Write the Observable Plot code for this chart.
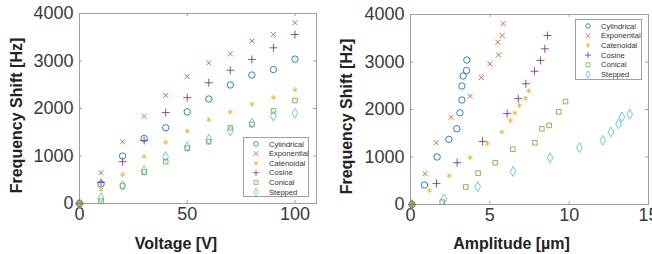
<!DOCTYPE html>
<html><head><meta charset="utf-8">
<script src="https://cdn.jsdelivr.net/npm/d3@7"></script>
<script src="https://cdn.jsdelivr.net/npm/@observablehq/plot@0.6"></script>
<style>
html,body{margin:0;padding:0;background:#fff;}
#wrap{position:relative;width:652px;height:254px;overflow:hidden;font-family:"Liberation Sans",Arial,sans-serif;}
#wrap > svg, #wrap > .legend{position:absolute;top:0;}
</style></head><body><div id="wrap"></div>
<script>
// ---- data ----
const seriesNames = ["Cylindrical","Exponential","Catenoidal","Cosine","Conical","Stepped"];
const seriesColors = ["#0072BD","#D95319","#EDB120","#7E2F8E","#77AC30","#4DBEEE"];
const seriesSymbols = ["circle","times","asterisk","plus","square","diamond"];

const voltage = [0,10,20,30,40,50,60,70,80,90,100];

const freqCylindrical = [0,410,1000,1370,1595,1930,2200,2495,2705,2820,3040];
const freqExponential = [0,648,1300,1835,2278,2672,2960,3150,3418,3558,3808];
const freqCatenoidal  = [0,292,608,988,1288,1524,1764,1926,2086,2232,2392];
const freqCosine      = [0,444,880,1328,1914,2228,2542,2806,3034,3278,3558];
const freqConical     = [0,50,368,660,880,1165,1300,1595,1665,1950,2168];
const freqStepped     = [0,118,378,695,986,1198,1352,1527,1697,1840,1900];

const ampCylindrical = [0.1,0.88,1.68,2.42,2.92,3.11,3.24,3.24,3.32,3.53,3.55];
const ampExponential = [0.1,0.92,1.62,2.56,3.76,4.47,5.00,5.55,5.50,5.78,5.84];
const ampCatenoidal  = [0.1,1.20,2.44,3.76,4.85,5.76,6.30,6.58,6.87,7.25,7.46];
const ampCosine      = [0.1,1.64,2.94,4.54,6.09,6.79,7.27,7.82,8.19,8.47,8.63];
const ampConical     = [0.1,2.00,3.49,4.26,5.34,6.45,7.84,8.28,8.74,9.35,9.77];
const ampStepped     = [0.1,2.12,4.24,6.47,8.80,10.65,12.12,12.63,13.11,13.32,13.82];

const xTicksVoltage = [0,50,100];
const xTicksAmplitude = [0,5,10,15];
const yTicks = [0,1000,2000,3000,4000];
const xLabelVoltage = "Voltage [V]";
const xLabelAmplitude = "Amplitude [µm]";
const yLabel = "Frequency Shift [Hz]";

// ---- build table ----
const freqs = [freqCylindrical,freqExponential,freqCatenoidal,freqCosine,freqConical,freqStepped];
const amps = [ampCylindrical,ampExponential,ampCatenoidal,ampCosine,ampConical,ampStepped];
const markerR = {circle:3.2, times:2.4, asterisk:2.5, plus:2.7, square:2.6, diamond:3.0};
const rows = [];
seriesNames.forEach((s,i)=>{
  voltage.forEach((v,j)=>rows.push({series:s, voltage:v, amplitude:amps[i][j], freq:freqs[i][j], r:markerR[seriesSymbols[i]]}));
});

const FONT = "Liberation Sans, Arial, sans-serif";
const frameColor = "#a0a0a0";

function panel(o){
  const fw = o.width - o.ml - o.mr, fh = o.height - o.mt - o.mb;
  return Plot.plot({
    width:o.width, height:o.height,
    marginLeft:o.ml, marginRight:o.mr, marginTop:o.mt, marginBottom:o.mb,
    style:{fontFamily:FONT, color:"#3a3a3a", background:"transparent", overflow:"visible"},
    x:{domain:o.xDomain},
    y:{domain:[0,4000]},
    r:{type:"identity"},
    color:{domain:seriesNames, range:seriesColors},
    symbol:{domain:seriesNames, range:seriesSymbols},
    marks:[
      Plot.frame({stroke:frameColor, strokeWidth:1}),
      Plot.ruleX(o.xTicks, {x:d=>d, insetTop:fh-3, stroke:frameColor}),
      Plot.ruleX(o.xTicks, {x:d=>d, insetBottom:fh-3, stroke:frameColor}),
      Plot.ruleY(yTicks, {y:d=>d, insetRight:fw-3, stroke:frameColor}),
      Plot.ruleY(yTicks, {y:d=>d, insetLeft:fw-3, stroke:frameColor}),
      Plot.axisX(o.xTicks, {tickSize:0, tickPadding:4, fontSize:18, label:null, tickFormat:d3.format("d")}),
      Plot.axisY(yTicks, {tickSize:0, tickPadding:6, fontSize:18, label:null, tickFormat:d3.format("d")}),
      Plot.dot(rows, {x:o.xField, y:"freq", stroke:"series", symbol:"series", r:"r", strokeWidth:1, strokeOpacity:0.85}),
      Plot.text([o.xLabel], {text:d=>d, frameAnchor:"bottom", textAnchor:"middle", lineAnchor:"bottom", dx:o.xlDx, dy:o.xlDy, fontSize:16, fontWeight:"bold", fill:"#222"}),
      Plot.text([yLabel], {text:d=>d, frameAnchor:"left", textAnchor:"middle", lineAnchor:"middle", rotate:-90, dx:o.ylDx, dy:7, fontSize:16, fontWeight:"bold", fill:"#222"})
    ]
  });
}

const wrap = document.getElementById("wrap");
const left = panel({width:326,height:254,ml:79,mr:10,mt:13,mb:51,xDomain:[0,110],xTicks:xTicksVoltage,xField:"voltage",xLabel:xLabelVoltage,xlDx:-22,xlDy:45,ylDx:-63});
left.style.left = "0px";
wrap.appendChild(left);
const right = panel({width:326,height:254,ml:84,mr:4,mt:14,mb:50,xDomain:[0,15],xTicks:xTicksAmplitude,xField:"amplitude",xLabel:xLabelAmplitude,xlDx:-18,xlDy:44,ylDx:-64});
right.style.left = "326px";
wrap.appendChild(right);

// ---- legends ----
const symMap = {circle:d3.symbolCircle, times:d3.symbolTimes, asterisk:d3.symbolAsterisk, plus:d3.symbolPlus, square:d3.symbolSquare, diamond:d3.symbolDiamond};
function legend(x, y, w, h, step){
  const svg = d3.create("svg").attr("class","legend").attr("width",w+2).attr("height",h+2)
    .style("left",(x-1)+"px").style("top",(y-1)+"px").style("position","absolute");
  svg.append("rect").attr("x",1.5).attr("y",1.5).attr("width",w-1).attr("height",h-1)
    .attr("fill","#fff").attr("stroke","#a0a0a0").attr("stroke-width",1);
  seriesNames.forEach((s,i)=>{
    const cy = 1 + 7 + i*step;
    svg.append("path").attr("d", d3.symbol(symMap[seriesSymbols[i]], 16)())
      .attr("transform",`translate(${1+13},${cy})`)
      .attr("fill","none").attr("stroke",seriesColors[i]).attr("stroke-width",0.9).attr("stroke-opacity",0.85);
    svg.append("text").attr("x",1+26).attr("y",cy).attr("dy","0.35em")
      .attr("font-family",FONT).attr("font-size",7.6).attr("fill","#333").text(s);
  });
  wrap.appendChild(svg.node());
}
legend(243,137,66,60,9.6);
legend(575,19,67,61,9.7);
</script>
</body></html>
